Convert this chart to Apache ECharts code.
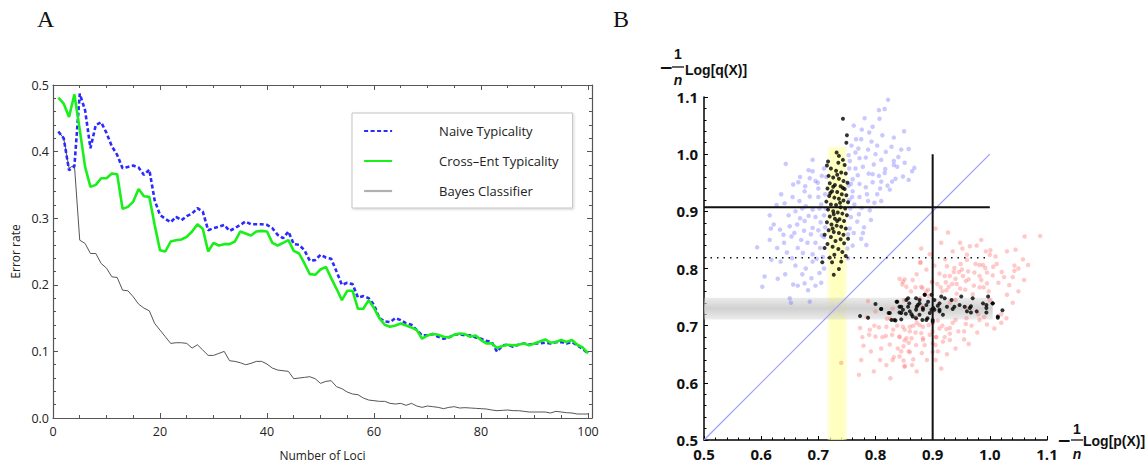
<!DOCTYPE html>
<html><head><meta charset="utf-8">
<script src="https://cdn.jsdelivr.net/npm/echarts@6/dist/echarts.min.js"></script>
<style>html,body{margin:0;padding:0;background:#fff}#c{width:1148px;height:468px}</style>
</head><body><div id="c"></div>
<script>
// ---------- Panel A data ----------
const loci = [1,2,3,4,5,6,7,8,9,10,11,12,13,14,15,16,17,18,19,20,21,22,23,24,25,26,27,28,29,30,31,32,33,34,35,36,37,38,39,40,41,42,43,44,45,46,47,48,49,50,51,52,53,54,55,56,57,58,59,60,61,62,63,64,65,66,67,68,69,70,71,72,73,74,75,76,77,78,79,80,81,82,83,84,85,86,87,88,89,90,91,92,93,94,95,96,97,98,99,100];
const naive = [0.430,0.420,0.372,0.378,0.487,0.462,0.405,0.440,0.444,0.428,0.408,0.395,0.375,0.377,0.379,0.376,0.365,0.373,0.327,0.305,
  0.299,0.294,0.302,0.297,0.303,0.307,0.315,0.310,0.282,0.285,0.287,0.290,0.281,0.285,0.290,0.295,0.291,0.291,0.291,0.290,
  0.285,0.275,0.270,0.280,0.261,0.260,0.252,0.236,0.237,0.245,0.241,0.239,0.220,0.200,0.203,0.201,0.181,0.183,0.180,0.170,
  0.150,0.145,0.144,0.150,0.147,0.142,0.140,0.132,0.124,0.124,0.126,0.122,0.119,0.121,0.125,0.126,0.124,0.124,0.121,0.119,
  0.116,0.114,0.0996,0.109,0.110,0.107,0.110,0.112,0.110,0.112,0.112,0.113,0.112,0.114,0.114,0.112,0.114,0.109,0.104,0.097];
const crossEnt = [0.481,0.472,0.452,0.486,0.433,0.377,0.347,0.350,0.360,0.360,0.367,0.366,0.314,0.317,0.325,0.344,0.333,0.332,0.290,0.252,
  0.250,0.265,0.267,0.268,0.272,0.280,0.291,0.284,0.250,0.263,0.259,0.261,0.261,0.265,0.280,0.277,0.274,0.280,0.281,0.280,
  0.263,0.259,0.263,0.267,0.251,0.247,0.232,0.216,0.215,0.223,0.227,0.210,0.194,0.177,0.191,0.191,0.164,0.164,0.177,0.165,
  0.150,0.140,0.137,0.139,0.142,0.139,0.136,0.132,0.119,0.124,0.126,0.125,0.122,0.121,0.125,0.127,0.126,0.122,0.124,0.117,
  0.112,0.112,0.105,0.108,0.110,0.109,0.110,0.112,0.109,0.112,0.115,0.118,0.113,0.114,0.117,0.114,0.117,0.110,0.106,0.097];
const bayes = [0.430,0.420,0.375,0.380,0.267,0.262,0.247,0.247,0.232,0.225,0.212,0.211,0.192,0.191,0.182,0.171,0.165,0.161,0.142,0.132,
  0.122,0.112,0.113,0.113,0.112,0.105,0.110,0.102,0.094,0.094,0.097,0.100,0.086,0.085,0.083,0.080,0.082,0.085,0.085,0.081,
  0.075,0.072,0.071,0.070,0.059,0.060,0.061,0.062,0.059,0.052,0.055,0.056,0.047,0.044,0.039,0.036,0.035,0.030,0.027,0.026,
  0.025,0.025,0.022,0.021,0.022,0.019,0.022,0.018,0.016,0.018,0.017,0.016,0.014,0.016,0.017,0.015,0.0155,0.015,0.0145,0.014,
  0.0135,0.012,0.011,0.0115,0.012,0.011,0.011,0.010,0.009,0.009,0.009,0.009,0.0075,0.010,0.009,0.008,0.0075,0.006,0.006,0.006];
const seriesNames = ['Naive Typicality','Cross\u2013Ent Typicality','Bayes Classifier'];

// ---------- Panel B data ----------
const blueCloud = [[0.822,1.095],[0.816,1.079],[0.806,1.077],[0.781,1.063],[0.807,1.062],[0.789,1.038],[0.832,1.029],[0.766,1.026],[0.775,1.026],[0.793,1.022],[0.765,1.003],[0.818,1.004],[0.800,1.000],[0.783,0.994],[0.772,0.993],[0.832,0.988],[0.755,0.988],[0.828,1.013],[0.845,1.008],[0.858,1.009],[0.832,0.981],[0.838,0.978],[0.868,0.976],[0.864,0.970],[0.816,0.967],[0.848,0.961],[0.810,0.952],[0.821,0.945],[0.825,0.938],[0.810,0.918],[0.788,0.966],[0.769,0.963],[0.760,0.956],[0.772,0.948],[0.783,0.942],[0.795,0.951],[0.817,0.974],[0.829,0.952],[0.760,0.935],[0.772,0.925],[0.785,0.930],[0.803,0.930],[0.763,0.912],[0.776,0.906],[0.790,0.902],[0.757,0.890],[0.768,0.882],[0.780,0.872],[0.762,0.862],[0.775,0.852],[0.784,0.841],[0.760,0.840],[0.755,0.870],[0.798,0.915],[0.840,0.995],[0.850,1.040],[0.795,1.048],[0.770,1.010],[0.810,0.990],[0.835,0.957],[0.803,1.015],[0.787,1.008],[0.758,1.015],[0.778,0.978],[0.797,0.982],[0.765,0.975],[0.757,0.948],[0.795,0.965],[0.808,0.940],[0.787,0.918],[0.771,0.895],[0.759,0.925],[0.778,0.862],[0.792,0.885],[0.806,0.962],[0.851,0.985],[0.776,1.043],[0.762,1.050],[0.812,1.033],[0.858,0.955],
  [0.643,0.983],[0.690,0.970],[0.706,0.962],[0.656,0.947],[0.665,0.951],[0.677,0.944],[0.695,0.953],[0.685,0.958],[0.700,0.940],[0.685,0.926],[0.667,0.918],[0.627,0.911],[0.641,0.914],[0.678,0.909],[0.690,0.903],[0.702,0.905],[0.622,0.877],[0.650,0.874],[0.676,0.883],[0.690,0.871],[0.704,0.881],[0.658,0.862],[0.633,0.868],[0.663,0.877],[0.675,0.866],[0.687,0.860],[0.700,0.867],[0.653,0.856],[0.664,0.836],[0.673,0.827],[0.690,0.825],[0.703,0.836],[0.634,0.812],[0.593,0.837],[0.606,0.786],[0.629,0.782],[0.602,0.768],[0.656,0.772],[0.664,0.770],[0.676,0.774],[0.682,0.762],[0.650,0.748],[0.652,0.740],[0.685,0.742],[0.690,0.812],[0.702,0.792],[0.678,0.800],[0.660,0.805],[0.645,0.828],[0.615,0.850],[0.640,0.845],[0.670,0.850],[0.695,0.845],[0.710,0.855],[0.708,0.820],[0.695,0.890],[0.710,0.893],[0.712,0.930],[0.660,0.900],[0.648,0.893],[0.615,0.893],[0.635,0.930],[0.655,0.925],[0.700,0.925],[0.710,0.975],[0.690,0.990],[0.676,0.935],[0.668,0.960],[0.712,0.872],[0.683,0.892],[0.705,0.912],[0.642,0.790],[0.618,0.815],[0.695,0.770],[0.710,0.800],[0.681,0.845],[0.668,0.888],[0.697,0.817],[0.654,0.818],[0.639,0.859],[0.628,0.836],[0.672,0.790],[0.688,0.783],[0.705,0.775],[0.699,0.950],[0.683,0.972],[0.672,0.905],[0.706,0.858],[0.617,0.870],
  [0.754,0.920],[0.756,0.905],[0.753,0.945],[0.754,0.975],[0.752,0.860],[0.751,0.835],[0.714,0.960],[0.713,0.905],[0.753,0.998],[0.752,0.818]];
const redCloud = [[0.927,0.863],[1.061,0.856],[1.088,0.857],[0.948,0.845],[0.965,0.839],[0.977,0.840],[0.952,0.835],[1.045,0.833],[0.993,0.830],[1.001,0.832],[0.960,0.824],[1.000,0.824],[1.010,0.821],[0.922,0.816],[1.058,0.816],[0.878,0.810],[1.067,0.806],[0.949,0.808],[0.982,0.806],[0.988,0.806],[0.925,0.804],[0.938,0.801],[0.951,0.798],[0.992,0.801],[1.006,0.803],[1.043,0.805],[0.912,0.791],[0.921,0.787],[0.930,0.787],[0.937,0.794],[0.946,0.794],[0.953,0.787],[0.963,0.781],[0.973,0.793],[0.982,0.787],[0.995,0.793],[1.005,0.788],[1.021,0.794],[1.043,0.796],[0.842,0.782],[0.851,0.781],[0.847,0.772],[0.899,0.776],[0.908,0.773],[0.914,0.767],[0.923,0.776],[0.934,0.773],[0.942,0.773],[0.958,0.778],[0.972,0.770],[0.982,0.767],[0.995,0.774],[0.989,0.767],[1.060,0.780],[1.034,0.771],[0.870,0.767],[0.882,0.766],[0.889,0.760],[1.030,0.754],[0.924,0.762],[0.957,0.763],[0.942,0.756],
  [0.865,0.780],[0.880,0.768],[0.892,0.763],[0.899,0.777],[0.848,0.777],[0.854,0.768],[0.879,0.811],[0.787,0.743],
  [0.773,0.696],[0.790,0.693],[0.806,0.697],[0.819,0.698],[0.831,0.693],[0.848,0.698],[0.860,0.698],[0.877,0.701],[0.777,0.680],[0.789,0.684],[0.800,0.681],[0.818,0.682],[0.829,0.684],[0.842,0.680],[0.854,0.678],[0.825,0.667],[0.810,0.660],[0.839,0.660],[0.849,0.664],[0.860,0.654],[0.871,0.666],[0.883,0.675],[0.895,0.684],[0.775,0.640],[0.740,0.635],[0.819,0.631],[0.830,0.640],[0.842,0.646],[0.851,0.628],[0.864,0.631],[0.771,0.614],[0.797,0.620],[0.826,0.608],[0.900,0.654],[0.906,0.680],
  [0.959,0.713],[0.958,0.703],[1.029,0.713],[0.990,0.715],[0.924,0.694],[0.930,0.696],[0.917,0.700],[0.909,0.709],[0.900,0.704],[0.893,0.701],[0.883,0.698],[0.866,0.700],[0.860,0.690],[0.851,0.693],[0.906,0.680],[0.921,0.680],[0.930,0.686],[0.918,0.672],[0.955,0.676],[0.842,0.681],[0.851,0.674],[0.863,0.678],[0.880,0.687],[0.886,0.666],[0.900,0.669],[0.905,0.666],[0.858,0.655],[0.881,0.652],[0.909,0.655],[0.849,0.639],[0.866,0.641],[0.851,0.630],
  [0.800,0.725],[0.830,0.730],[0.870,0.715],[0.930,0.740],[0.960,0.730],[1.000,0.745],[1.020,0.720],[0.850,0.745],[0.900,0.725],[0.940,0.710],[0.980,0.720],[0.820,0.712],[0.880,0.735],
  [1.015,0.775],[1.040,0.785],[1.050,0.760],[0.970,0.755],[0.940,0.745],
  [0.872,0.790],[0.889,0.798],[0.903,0.805],[0.917,0.760],[0.928,0.768],[0.940,0.782],[0.962,0.795],[0.975,0.808],[0.985,0.780],[0.998,0.760],[1.012,0.808],[1.025,0.785],[0.862,0.760],[0.878,0.748],[0.893,0.752],[0.948,0.765],[0.935,0.705],[0.945,0.690],[0.968,0.700],[0.978,0.688],[0.995,0.702],[1.008,0.695],[0.963,0.668],[0.940,0.660],[0.925,0.650],[0.890,0.640],[0.915,0.625],[0.872,0.620],[0.838,0.700],[0.826,0.712],[0.812,0.680],[0.798,0.700],[0.785,0.715],[0.870,0.688],[0.858,0.670],[0.845,0.655],[0.832,0.645],[0.808,0.640],[0.792,0.655],[0.779,0.665],[0.900,0.690],[0.912,0.695],[0.883,0.678],[0.872,0.705],[0.905,0.640],[0.930,0.675],[0.955,0.690],[0.982,0.710],[1.020,0.705],[1.040,0.740],[0.960,0.815],[0.935,0.830],[0.915,0.845],[0.895,0.825],[0.880,0.835],[1.030,0.830],[1.050,0.800],[0.905,0.870],[0.985,0.850]];
const blackQ = [[0.743,1.062],[0.750,1.033],[0.749,1.020],[0.732,1.003],[0.736,0.997],[0.717,0.987],[0.715,0.980],[0.735,0.985],[0.743,0.990],[0.746,0.981],[0.722,0.975],[0.731,0.971],[0.740,0.968],[0.748,0.966],[0.718,0.962],[0.726,0.959],[0.736,0.957],[0.744,0.953],[0.751,0.950],[0.720,0.949],[0.729,0.946],[0.739,0.944],[0.746,0.939],[0.716,0.940],[0.724,0.935],[0.733,0.934],[0.741,0.930],[0.749,0.928],[0.719,0.927],[0.728,0.924],[0.736,0.922],[0.744,0.919],[0.752,0.916],[0.714,0.917],[0.722,0.912],[0.731,0.911],[0.739,0.907],[0.747,0.905],[0.717,0.903],[0.726,0.900],[0.734,0.898],[0.742,0.896],[0.750,0.893],[0.720,0.891],[0.729,0.887],[0.737,0.886],[0.745,0.883],[0.715,0.881],[0.723,0.877],[0.732,0.875],[0.740,0.873],[0.748,0.870],[0.718,0.867],[0.727,0.864],[0.736,0.862],[0.744,0.859],[0.711,0.859],[0.722,0.855],[0.739,0.851],[0.752,0.852],[0.730,0.848],[0.745,0.844],[0.716,0.843],[0.725,0.838],[0.711,0.836],[0.735,0.834],[0.742,0.829],[0.728,0.824],[0.748,0.822],[0.720,0.819],[0.707,0.811],[0.724,0.811],[0.740,0.812],[0.736,0.799],[0.727,0.789],[0.733,0.964],[0.726,0.943],[0.743,0.941],[0.721,0.932],[0.738,0.915],[0.727,0.895],[0.733,0.883],[0.725,0.870]];
const blackP = [[0.773,0.717],[0.787,0.714],[0.800,0.738],[0.810,0.729],[0.823,0.722],[0.833,0.710],[0.845,0.711],[0.837,0.742],[0.845,0.733],[0.854,0.745],[0.857,0.733],[0.860,0.725],[0.865,0.716],[0.872,0.733],[0.877,0.745],[0.883,0.728],[0.886,0.754],[0.892,0.742],[0.898,0.728],[0.900,0.710],[0.903,0.745],[0.909,0.735],
  [0.857,0.748],[0.871,0.748],[0.886,0.754],[0.898,0.754],[0.915,0.751],[0.921,0.748],[0.933,0.745],[0.950,0.751],[0.970,0.748],[0.997,0.751],[0.838,0.742],[0.859,0.739],[0.877,0.739],[0.889,0.736],[0.912,0.739],[0.925,0.733],[0.938,0.733],[0.947,0.736],[0.956,0.733],[0.967,0.734],[0.988,0.739],[1.005,0.739],[0.810,0.729],[0.842,0.733],[0.848,0.728],[0.871,0.728],[0.883,0.731],[0.903,0.728],[0.912,0.725],[0.935,0.729],[0.960,0.725],[0.977,0.725],[0.994,0.731],[1.022,0.727],[0.825,0.722],[0.842,0.723],[0.853,0.721],[0.863,0.720],[0.877,0.719],[0.895,0.722],[0.918,0.719],[0.967,0.723],[0.994,0.723],[1.014,0.714],[0.828,0.710],[0.835,0.709],[0.871,0.713],[0.882,0.710],[0.889,0.710],[0.900,0.707],[0.891,0.713],
  [0.845,0.722],[0.874,0.736],[0.901,0.731],[0.912,0.728],[0.965,0.731],[0.994,0.736],[1.005,0.739],[1.014,0.716]];
const thresholdQ = 0.907, dottedQ = 0.819, thresholdP = 0.9, refStart = 0.5, refEnd = 1.0;
const yellowBandX = [0.716, 0.750], yellowBandTop = 1.012;
const grayBandY = [0.711, 0.749], grayBandRight = 1.005;

const pair = (xs, ys) => xs.map((x, i) => [x, ys[i]]);
const SANS = '"Open Sans", "Liberation Sans", sans-serif';
const BOLD = '"Liberation Sans", Arial, sans-serif';

const frameA = '#555';
const axisA = (pos, labels) => ({
  gridIndex: 0, type: 'value', position: pos,
  axisLine: { show: true, onZero: false, lineStyle: { color: frameA, width: 1.2 } },
  axisTick: { show: true, inside: true, length: 5, lineStyle: { color: frameA, width: 1 } },
  minorTick: { show: true, length: 3, lineStyle: { color: frameA, width: 1 } },
  splitLine: { show: false },
  axisLabel: { show: labels, color: '#222', fontSize: 12.5, fontFamily: SANS }
});
const axisB = (pos) => ({
  gridIndex: 1, type: 'value', position: pos, min: 0.5, max: 1.1, interval: 0.1,
  axisLine: { show: true, onZero: false, lineStyle: { color: '#000', width: 1.5 } },
  axisTick: { show: true, inside: true, length: 4, lineStyle: { color: '#000', width: 1 } },
  minorTick: { show: true, splitNumber: 5, length: 2.5, lineStyle: { color: '#000', width: 1 } },
  splitLine: { show: false },
  axisLabel: { color: '#111', fontSize: 15, fontWeight: 'bold', fontFamily: SANS, margin: 6,
    formatter: v => v.toFixed(1) }
});

const xA = Object.assign(axisA('bottom', true), { min: 0, max: 100.75, interval: 20,
  name: 'Number of Loci', nameLocation: 'middle', nameGap: 31,
  nameTextStyle: { fontFamily: SANS, fontSize: 12, color: '#222' } });
xA.axisLabel.formatter = v => (Math.abs(v % 20) < 1e-9 ? String(v) : '');
xA.axisLabel.margin = 7;
xA.minorTick.splitNumber = 4;
const xA2 = Object.assign(axisA('top', false), { min: 0, max: 100.75, interval: 20 });
xA2.minorTick.splitNumber = 4;
const yA = Object.assign(axisA('left', true), { min: 0, max: 0.5, interval: 0.1,
  name: 'Error rate', nameLocation: 'middle', nameGap: 32,
  nameTextStyle: { fontFamily: SANS, fontSize: 12, color: '#222' } });
yA.axisLabel.formatter = v => v.toFixed(1);
yA.axisLabel.margin = 4;
yA.minorTick.splitNumber = 5;
const yA2 = Object.assign(axisA('right', false), { min: 0, max: 0.5, interval: 0.1 });
yA2.minorTick.splitNumber = 5;

const txt = (x, y, text, font, align, extra) => Object.assign({
  type: 'text', x: x, y: y,
  style: { text: text, font: font, fill: '#111', textAlign: align, align: align,
    textVerticalAlign: 'middle', verticalAlign: 'middle' }
}, extra || {});
const hiddenSymbol = { color: 'rgba(0,0,0,0)', opacity: 0, borderWidth: 0 };

const chart = echarts.init(document.getElementById('c'), null, { renderer: 'svg', width: 1148, height: 468 });
chart.setOption({
  animation: false,
  backgroundColor: '#fff',
  grid: [
    { left: 53, top: 85, width: 539, height: 333 },
    { left: 704, top: 97, width: 343, height: 343 }
  ],
  xAxis: [xA, xA2, axisB('bottom')],
  yAxis: [yA, yA2, axisB('left')],
  legend: {
    orient: 'vertical', left: 352, top: 113, itemWidth: 28, itemHeight: 14, itemGap: 16,
    padding: [11, 14, 10, 11], borderColor: '#c4c4c4', borderWidth: 1, backgroundColor: '#fff',
    shadowColor: 'rgba(0,0,0,0.18)', shadowBlur: 2, shadowOffsetX: 1, shadowOffsetY: 1,
    itemStyle: hiddenSymbol,
    textStyle: { fontFamily: SANS, fontSize: 13, color: '#222', padding: [0, 0, 0, 42], height: 14, lineHeight: 14 },
    data: [
      { name: seriesNames[0], itemStyle: hiddenSymbol },
      { name: seriesNames[1], itemStyle: hiddenSymbol },
      { name: seriesNames[2], lineStyle: { color: '#b0b0b0', width: 2.2 }, itemStyle: hiddenSymbol }
    ]
  },
  graphic: [
    { type: 'text', x: 37, y: 7, style: { text: 'A', font: '24px "Liberation Serif", serif', fill: '#111' } },
    { type: 'text', x: 613, y: 7, style: { text: 'B', font: '24px "Liberation Serif", serif', fill: '#111' } },
    txt(666, 67, '\u2212', 'bold 17px "DejaVu Sans", sans-serif', 'center'),
    txt(678, 54, '1', 'bold 14px ' + BOLD, 'center'),
    { type: 'line', shape: { x1: 672, y1: 67, x2: 684, y2: 67 }, style: { stroke: '#111', lineWidth: 1.3 } },
    txt(678, 80, 'n', 'italic bold 14px ' + BOLD, 'center'),
    txt(685, 70, 'Log[q(X)]', 'bold 14px ' + BOLD, 'left'),
    txt(1064, 440, '\u2212', 'bold 17px "DejaVu Sans", sans-serif', 'center'),
    txt(1077, 429, '1', 'bold 14px ' + BOLD, 'center'),
    { type: 'line', shape: { x1: 1071, y1: 440, x2: 1083, y2: 440 }, style: { stroke: '#111', lineWidth: 1.3 } },
    txt(1077, 454, 'n', 'italic bold 14px ' + BOLD, 'center'),
    txt(1083, 441, 'Log[p(X)]', 'bold 14px ' + BOLD, 'left')
  ],
  series: [
    { name: seriesNames[2], type: 'line', xAxisIndex: 0, yAxisIndex: 0, data: pair(loci, bayes),
      symbol: 'none', z: 2, lineStyle: { color: '#555', width: 1 }, itemStyle: { color: '#555' } },
    { name: seriesNames[0], type: 'line', xAxisIndex: 0, yAxisIndex: 0, data: pair(loci, naive),
      symbol: 'none', z: 3, lineStyle: { color: '#2b2bff', width: 2.6, type: [4, 2.5] }, itemStyle: { color: '#2b2bff' } },
    { name: seriesNames[1], type: 'line', xAxisIndex: 0, yAxisIndex: 0, data: pair(loci, crossEnt),
      symbol: 'none', z: 4, lineStyle: { color: '#19f019', width: 2.6 }, itemStyle: { color: '#19f019' } },

    // Panel B
    { type: 'scatter', xAxisIndex: 2, yAxisIndex: 2, data: [], z: 1, silent: true,
      markArea: { silent: true, data: [
        [{ xAxis: yellowBandX[0], yAxis: 0.5, itemStyle: { color: { type: 'linear', x: 0, y: 0, x2: 1, y2: 0,
            colorStops: [{ offset: 0, color: 'rgba(255,255,170,0.35)' }, { offset: 0.2, color: 'rgba(255,255,175,0.8)' },
                         { offset: 0.8, color: 'rgba(255,255,175,0.8)' }, { offset: 1, color: 'rgba(255,255,170,0.35)' }] } } },
         { xAxis: yellowBandX[1], yAxis: yellowBandTop }],
        [{ xAxis: refStart, yAxis: grayBandY[0], itemStyle: { color: { type: 'linear', x: 0, y: 0, x2: 0, y2: 1,
            colorStops: [{ offset: 0, color: 'rgba(200,200,200,0.35)' }, { offset: 0.5, color: 'rgba(200,200,200,0.85)' },
                         { offset: 1, color: 'rgba(200,200,200,0.35)' }] } } },
         { xAxis: grayBandRight, yAxis: grayBandY[1] }]
      ] } },
    { type: 'line', xAxisIndex: 2, yAxisIndex: 2, data: [[refStart, refStart], [refEnd, refEnd]], symbol: 'none', z: 2,
      lineStyle: { color: '#9c9cff', width: 1.2 }, itemStyle: { color: '#9c9cff' } },
    { type: 'scatter', xAxisIndex: 2, yAxisIndex: 2, data: blueCloud, symbolSize: 4.5, z: 3,
      itemStyle: { color: 'rgba(105,105,255,0.45)' } },
    { type: 'scatter', xAxisIndex: 2, yAxisIndex: 2, data: redCloud, symbolSize: 4.5, z: 3,
      itemStyle: { color: 'rgba(255,105,105,0.45)' } },
    { type: 'scatter', xAxisIndex: 2, yAxisIndex: 2, data: blackQ.concat(blackP), symbolSize: 4, z: 4,
      itemStyle: { color: '#000' } },
    { type: 'line', xAxisIndex: 2, yAxisIndex: 2, data: [[refStart, thresholdQ], [refEnd, thresholdQ]], symbol: 'none', z: 5,
      lineStyle: { color: '#111', width: 2 } },
    { type: 'line', xAxisIndex: 2, yAxisIndex: 2, data: [[refStart, dottedQ], [refEnd, dottedQ]], symbol: 'none', z: 5,
      lineStyle: { color: '#111', width: 1.5, type: [1.5, 5] } },
    { type: 'line', xAxisIndex: 2, yAxisIndex: 2, data: [[thresholdP, refStart], [thresholdP, refEnd]], symbol: 'none', z: 5,
      lineStyle: { color: '#111', width: 2 } }
  ]
});
</script></body></html>
